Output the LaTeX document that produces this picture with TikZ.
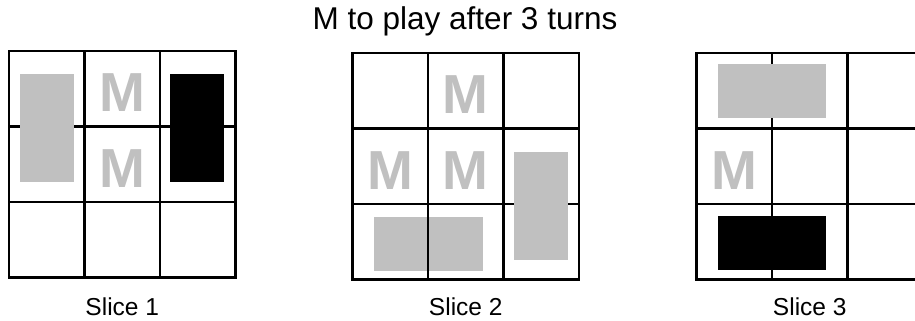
\documentclass[tikz,border=0pt]{standalone}
\usepackage{fontspec}
\setmainfont{Liberation Sans}
\definecolor{piecegray}{HTML}{C0C0C0}
\begin{document}
\begin{tikzpicture}[x=1pt,y=-1pt,
  gridline/.style={line width=2.8pt},
  graypiece/.style={fill=piecegray},
  blackpiece/.style={fill=black},
  mglyph/.style={text=piecegray, font=\fontsize{55}{55}\selectfont\bfseries, anchor=base, inner sep=0pt},
  slicelabel/.style={font=\fontsize{24.5}{25}\selectfont, anchor=base, inner sep=0pt},
  titlelabel/.style={font=\fontsize{31.5}{32}\selectfont, anchor=base, inner sep=0pt}]
\useasboundingbox[fill=white] (0,0) rectangle (915,321);
\def\cs{75.5}
\node[titlelabel] (title) at (465,30) {M to play after 3 turns};
% Board 1
\begin{scope}[shift={(9,51)}]
  \foreach \i in {1,2} {
    \draw[gridline] (\i*\cs,0) -- (\i*\cs,3*\cs);
    \draw[gridline] (0,\i*\cs) -- (3*\cs,\i*\cs);
  }
  \draw[gridline] (0,0) rectangle (3*\cs,3*\cs);
  \fill[graypiece] (11,23) rectangle (65,131);
  \fill[blackpiece] (161,23) rectangle (215,131);
  \node[mglyph] (b1m1) at (1.5*\cs,60.5) {M};
  \node[mglyph] (b1m2) at (1.5*\cs,136) {M};
  \node[slicelabel] (s1) at (1.5*\cs,264) {Slice 1};
\end{scope}
% Board 2
\begin{scope}[shift={(352.5,53)}]
  \foreach \i in {1,2} {
    \draw[gridline] (\i*\cs,0) -- (\i*\cs,3*\cs);
    \draw[gridline] (0,\i*\cs) -- (3*\cs,\i*\cs);
  }
  \draw[gridline] (0,0) rectangle (3*\cs,3*\cs);
  \fill[graypiece] (21.5,164) rectangle (130.5,218);
  \draw[gridline] (\cs,2*\cs) -- (\cs,3*\cs);
  \fill[graypiece] (161.5,99) rectangle (215.5,207);
  \node[mglyph] (b2m1) at (1.5*\cs,60.5) {M};
  \node[mglyph] (b2m2) at (0.5*\cs,136) {M};
  \node[mglyph] (b2m3) at (1.5*\cs,136) {M};
  \node[slicelabel] (s2) at (1.5*\cs,262) {Slice 2};
\end{scope}
% Board 3
\begin{scope}[shift={(696.5,53)}]
  \foreach \i in {1,2} {
    \draw[gridline] (\i*\cs,0) -- (\i*\cs,3*\cs);
    \draw[gridline] (0,\i*\cs) -- (3*\cs,\i*\cs);
  }
  \draw[gridline] (0,0) rectangle (3*\cs,3*\cs);
  \fill[graypiece] (21.5,11) rectangle (129.5,65);
  \fill[blackpiece] (21.5,163) rectangle (129.5,217);
  \node[mglyph] (b3m1) at (0.5*\cs,136) {M};
  \node[slicelabel] (s3) at (1.5*\cs,262) {Slice 3};
\end{scope}
\end{tikzpicture}
\end{document}
